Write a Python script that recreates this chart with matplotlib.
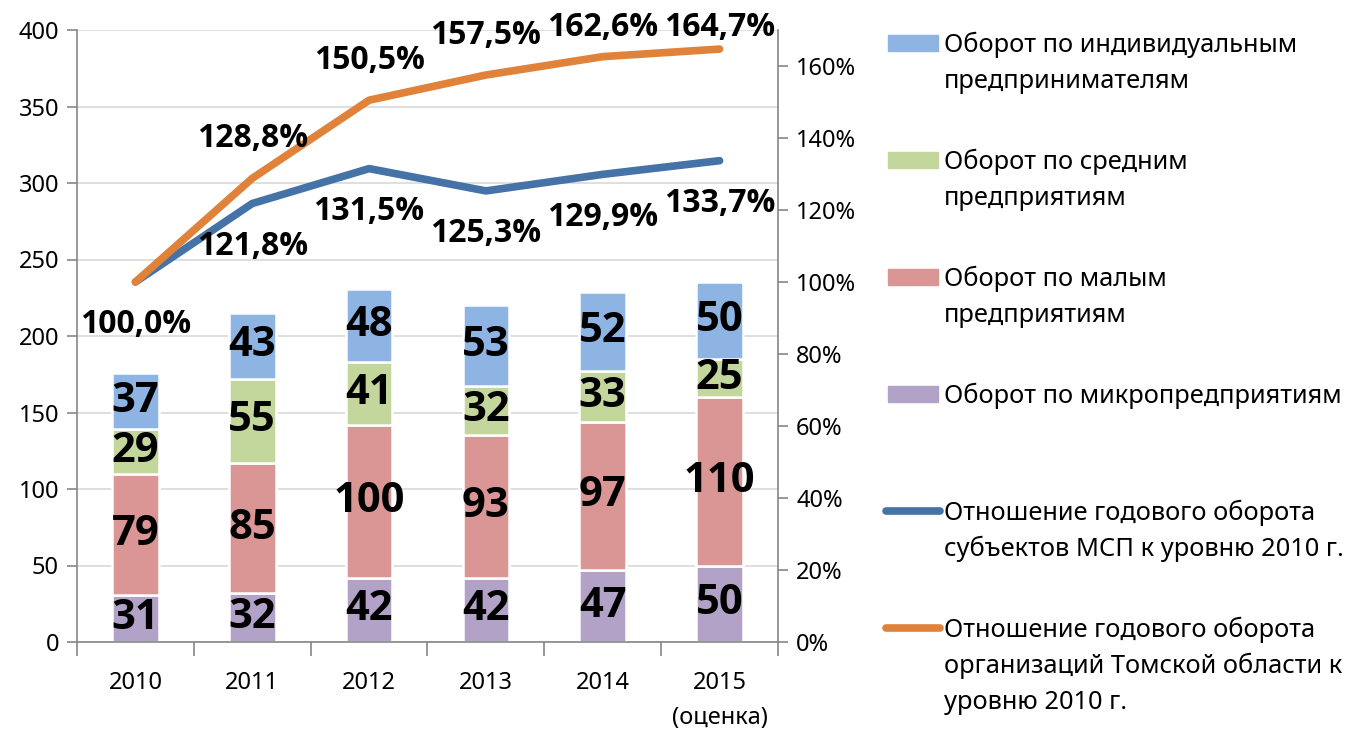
import numpy as np
import matplotlib.pyplot as plt
from matplotlib.patches import Rectangle
from matplotlib.lines import Line2D

# ── data ─────────────────────────────────────────────────────────────────────
years = ["2010", "2011", "2012", "2013", "2014", "2015\n(оценка)"]

micro  = [31, 32, 42, 42, 47, 50]
small  = [79, 85, 100, 93, 97, 110]
medium = [29, 55, 41, 32, 33, 25]
ip     = [37, 43, 48, 53, 52, 50]

ratio_msp    = [100.0, 121.8, 131.5, 125.3, 129.9, 133.7]
ratio_region = [100.0, 128.8, 150.5, 157.5, 162.6, 164.7]

left_ticks  = [0, 50, 100, 150, 200, 250, 300, 350, 400]
right_ticks = [0, 20, 40, 60, 80, 100, 120, 140, 160]

bar_series = [
    ("Оборот по микропредприятиям", micro, "#B3A2C7"),
    ("Оборот по малым\nпредприятиям", small, "#D99694"),
    ("Оборот по средним\nпредприятиям", medium, "#C3D69B"),
    ("Оборот по индивидуальным\nпредпринимателям", ip, "#8EB4E3"),
]
line_series = [
    ("Отношение годового оборота\nсубъектов МСП к уровню 2010 г.", ratio_msp, "#4572A7"),
    ("Отношение годового оборота\nорганизаций Томской области к\nуровню 2010 г.", ratio_region, "#E0823A"),
]

# ── style ────────────────────────────────────────────────────────────────────
plt.rcParams["font.family"] = ["Noto Sans", "DejaVu Sans"]
BOLD = ["Open Sans", "Liberation Sans", "DejaVu Sans"]
W, H = 1349, 736
GRID = "#D9D9D9"
SPINE = "#868686"
TICK_FS = 17

fig = plt.figure(figsize=(W / 100, H / 100), dpi=100)
ax = fig.add_axes([77 / W, 1 - 642 / H, (778 - 77) / W, (642 - 30) / H])
ax2 = ax.twinx()

x = np.arange(len(years))
bw = 0.40

# ── stacked bars ─────────────────────────────────────────────────────────────
bottom = np.zeros(len(years))
for name, vals, col in bar_series:
    vals = np.array(vals, dtype=float)
    ax.bar(x, vals, bw, bottom=bottom, color=col, edgecolor="white",
           linewidth=1.8, zorder=2)
    for xi, b, v in zip(x, bottom, vals):
        ax.text(xi, b + v / 2, f"{int(v)}", ha="center", va="center",
                fontsize=30, fontweight="bold", family=BOLD, color="black", zorder=4)
    bottom += vals

ax.set_xlim(-0.5, len(years) - 0.5)
ax.set_ylim(0, 400)
ax.set_yticks(left_ticks)
ax.grid(axis="y", color=GRID, linewidth=1.2, zorder=0)
ax.set_axisbelow(True)

# category tick marks between the groups
ax.set_xticks(np.arange(-0.5, len(years)), minor=False)
ax.set_xticklabels([])
ax.set_xticks(x, minor=True)
ax.set_xticklabels(years, minor=True, fontsize=TICK_FS, linespacing=1.6)
ax.tick_params(axis="x", which="major", length=10, color=SPINE, width=1.2)
ax.tick_params(axis="x", which="minor", length=0, pad=21)
ax.tick_params(axis="y", length=7, color=SPINE, width=1.2, labelsize=TICK_FS, pad=6)

for s in ["top", "right"]:
    ax.spines[s].set_visible(False)
for s in ["left", "bottom"]:
    ax.spines[s].set_color(SPINE)
    ax.spines[s].set_linewidth(1.2)

# ── lines on secondary axis ──────────────────────────────────────────────────
for name, vals, col in line_series:
    ax2.plot(x, vals, color=col, linewidth=5.5, solid_capstyle="round",
             solid_joinstyle="round", zorder=3)

ax2.set_ylim(0, 170)
ax2.set_yticks(right_ticks)
ax2.set_yticklabels([f"{t}%" for t in right_ticks])
ax2.tick_params(axis="y", length=7, color=SPINE, width=1.2, labelsize=TICK_FS, pad=6)
for s in ["top", "left", "bottom"]:
    ax2.spines[s].set_visible(False)
ax2.spines["right"].set_color(SPINE)
ax2.spines["right"].set_linewidth(1.2)

# percentage labels: region ratio above, MSP ratio below
for i, v in enumerate(ratio_region):
    if i == 0:
        continue
    ax2.text(x[i], min(v + 11.1, 170.6), f"{v:.1f}%".replace(".", ","),
             ha="center", va="center", fontsize=23, fontweight="bold",
             family=BOLD, zorder=5)
for i, v in enumerate(ratio_msp):
    ax2.text(x[i], v - 11.9, f"{v:.1f}%".replace(".", ","),
             ha="center", va="center", fontsize=23, fontweight="bold",
             family=BOLD, zorder=5)

# ── legend, laid out by hand to mirror the original ──────────────────────────
entries = [(n, c, "bar") for n, _, c in bar_series[::-1]] + \
          [(n, c, "line") for n, _, c in line_series]
y0, step, line_h = 43, 117, 36
for k, (name, col, kind) in enumerate(entries):
    yc = y0 + k * step
    if kind == "bar":
        fig.add_artist(Rectangle((888 / W, 1 - (yc + 8) / H), 50 / W, 16 / H,
                                 transform=fig.transFigure, color=col))
    else:
        fig.add_artist(Line2D([886 / W, 940 / W], [1 - yc / H, 1 - yc / H],
                              transform=fig.transFigure, color=col,
                              linewidth=5.5, solid_capstyle="round"))
    for j, line in enumerate(name.split("\n")):
        fig.text(944 / W, 1 - (yc + 9 + j * line_h) / H, line,
                 ha="left", va="baseline", fontsize=18.3)

fig.savefig("out.png", dpi=100)
